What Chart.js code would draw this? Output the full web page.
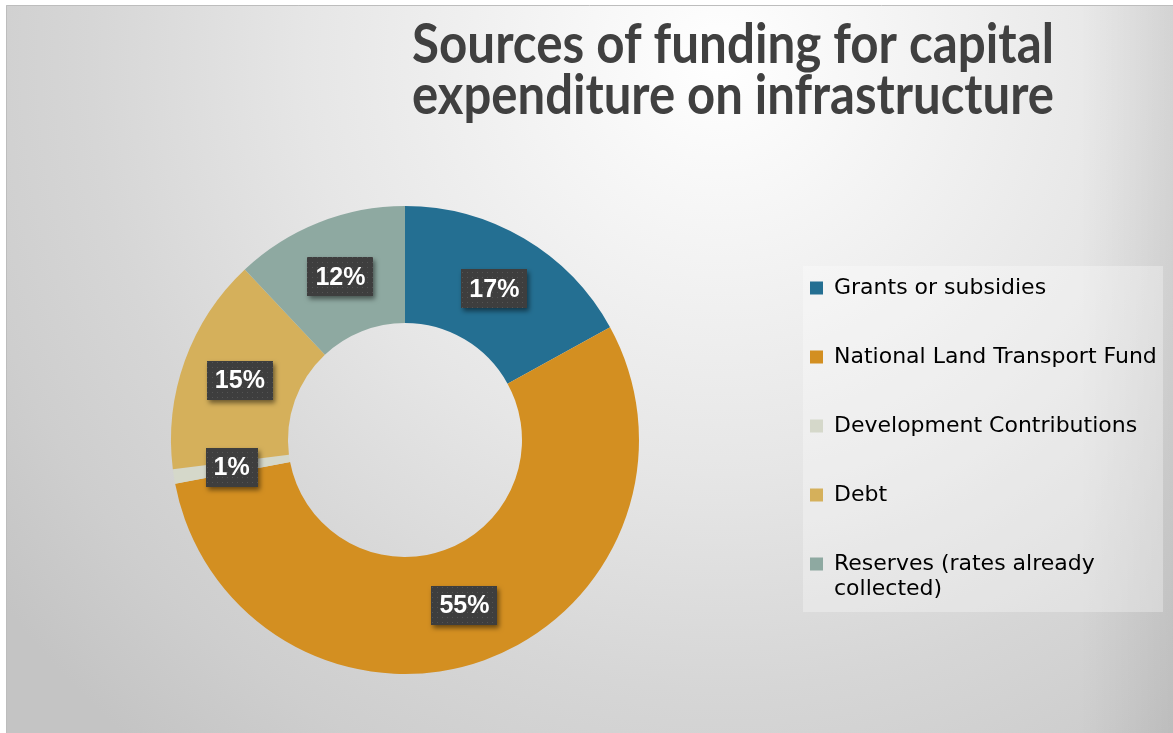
<!DOCTYPE html>
<html>
<head>
<meta charset="utf-8">
<title>Sources of funding for capital expenditure on infrastructure</title>
<script src="https://cdn.jsdelivr.net/npm/chart.js@4.4.1/dist/chart.umd.min.js"></script>
<style>
  html, body { margin: 0; padding: 0; background: #fff; }
  #wrap { width: 1173px; height: 733px; }
</style>
</head>
<body>
<div id="wrap"><canvas id="funding"></canvas></div>
<script>
// ─── Data ─────────────────────────────────────────────────────────────────────
const categories = [
  'Grants or subsidies',
  'National Land Transport Fund',
  'Development Contributions',
  'Debt',
  'Reserves (rates already collected)'
];
const shares = [17, 55, 1, 15, 12];          // percent of capital funding
const sliceColors = ['#246f92', '#d38f21', '#d5d8ca', '#d5b05b', '#8ea9a1'];
const titleLines = ['Sources of funding for capital', 'expenditure on infrastructure'];

const TEXT = '#404040';
const LEGEND_FONT = { family: '"DejaVu Sans", sans-serif', size: 22, lineHeight: '25px' };

// ─── Helpers ──────────────────────────────────────────────────────────────────
// break a legend label into lines no wider than maxW
function wrapLabel(ctx, label, maxW) {
  const words = label.split(' ');
  const lines = [];
  let line = '';
  words.forEach(w => {
    const test = line ? line + ' ' + w : w;
    if (line && ctx.measureText(test).width > maxW) {
      lines.push(line);
      line = w;
    } else {
      line = test;
    }
  });
  lines.push(line);
  return lines.length > 1 ? lines : lines[0];
}

// dark dotted fill used behind the percentage tags
let tagFill = null;
function tagPattern(ctx) {
  if (tagFill) return tagFill;
  const c = document.createElement('canvas');
  c.width = 5; c.height = 5;
  const p = c.getContext('2d');
  p.fillStyle = '#3e3e3e';
  p.fillRect(0, 0, 5, 5);
  p.fillStyle = '#545454';
  p.fillRect(2, 2, 1, 1);
  tagFill = ctx.createPattern(c, 'repeat');
  return tagFill;
}

// ─── Plugins ──────────────────────────────────────────────────────────────────
const backdrop = {
  id: 'backdrop',
  afterLayout(chart) {
    // centre the title over the right part of the frame; the narrow
    // box also squeezes the heading to its condensed width
    const t = chart.titleBlock;
    if (t) { t.left = 733 - 321; t.right = 733 + 321; }
  },
  beforeDraw(chart) {
    const { ctx, width, height } = chart;
    ctx.save();
    ctx.fillStyle = '#ffffff';
    ctx.fillRect(0, 0, width, height);

    const g = ctx.createRadialGradient(720, 60, 0, 720, 60, 900);
    g.addColorStop(0, '#ffffff');
    g.addColorStop(0.46, '#e6e6e6');
    g.addColorStop(0.7, '#d6d6d6');
    g.addColorStop(0.85, '#cecece');
    g.addColorStop(1, '#c4c4c4');
    ctx.fillStyle = g;
    ctx.fillRect(6, 5, width - 6, height - 5);

    const edge = ctx.createLinearGradient(1080, 0, width, 0);
    edge.addColorStop(0, 'rgba(0,0,0,0)');
    edge.addColorStop(1, 'rgba(0,0,0,0.07)');
    ctx.fillStyle = edge;
    ctx.fillRect(1080, 5, width - 1080, height - 5);

    ctx.strokeStyle = '#bdbdbd';
    ctx.lineWidth = 1;
    ctx.beginPath();
    ctx.moveTo(6.5, height);
    ctx.lineTo(6.5, 5.5);
    ctx.lineTo(width, 5.5);
    ctx.stroke();

    // light panel behind the legend
    const lg = chart.legend;
    ctx.fillStyle = 'rgba(255,255,255,0.3)';
    ctx.fillRect(lg.left + 40, lg.top + 36, 360, 346);
    ctx.restore();
  }
};

const valueTags = {
  id: 'valueTags',
  afterDatasetsDraw(chart) {
    const { ctx } = chart;
    const meta = chart.getDatasetMeta(0);
    const values = chart.data.datasets[0].data;
    ctx.save();
    ctx.font = 'bold 25px "Liberation Sans", Arial, sans-serif';
    ctx.textAlign = 'center';
    ctx.textBaseline = 'middle';
    meta.data.forEach((arc, i) => {
      const { x, y } = arc.getCenterPoint();
      const text = values[i] + '%';
      const w = Math.round(ctx.measureText(text).width + 16);
      const h = 39;
      ctx.save();
      ctx.shadowColor = 'rgba(0,0,0,0.5)';
      ctx.shadowBlur = 5;
      ctx.shadowOffsetX = 2;
      ctx.shadowOffsetY = 3;
      ctx.fillStyle = tagPattern(ctx);
      ctx.fillRect(Math.round(x - w / 2), Math.round(y - h / 2), w, h);
      ctx.restore();
      ctx.fillStyle = '#ffffff';
      ctx.fillText(text, x, y + 1);
    });
    ctx.restore();
  }
};

// ─── Chart ────────────────────────────────────────────────────────────────────
Chart.defaults.color = TEXT;

new Chart(document.getElementById('funding'), {
  type: 'doughnut',
  data: {
    labels: categories,
    datasets: [{
      data: shares,
      backgroundColor: sliceColors,
      borderWidth: 0,
      hoverOffset: 0
    }]
  },
  options: {
    responsive: true,
    maintainAspectRatio: false,
    animation: false,
    radius: 234,
    cutout: '50%',
    layout: { padding: { top: 6, left: 47, right: 12, bottom: 83 } },
    plugins: {
      title: {
        display: true,
        text: titleLines,
        color: TEXT,
        font: {
          family: 'Lato, "DejaVu Sans Condensed", sans-serif',
          size: 55,
          weight: 'bold',
          lineHeight: '51px'
        },
        padding: { top: 14, bottom: 108 }
      },
      legend: {
        position: 'right',
        align: 'start',
        fullSize: false,
        maxWidth: 398,
        labels: {
          color: TEXT,
          font: LEGEND_FONT,
          boxWidth: 13,
          boxHeight: 13,
          padding: 47,
          generateLabels(chart) {
            const ds = chart.data.datasets[0];
            const ctx = chart.ctx;
            ctx.save();
            ctx.font = LEGEND_FONT.size + 'px ' + LEGEND_FONT.family;
            const items = chart.data.labels.map((label, i) => ({
              text: wrapLabel(ctx, label, 330),
              fillStyle: ds.backgroundColor[i],
              strokeStyle: ds.backgroundColor[i],
              lineWidth: 0,
              hidden: false,
              index: i
            }));
            ctx.restore();
            return items;
          }
        }
      },
      tooltip: { enabled: false }
    }
  },
  plugins: [backdrop, valueTags]
});
</script>
</body>
</html>
